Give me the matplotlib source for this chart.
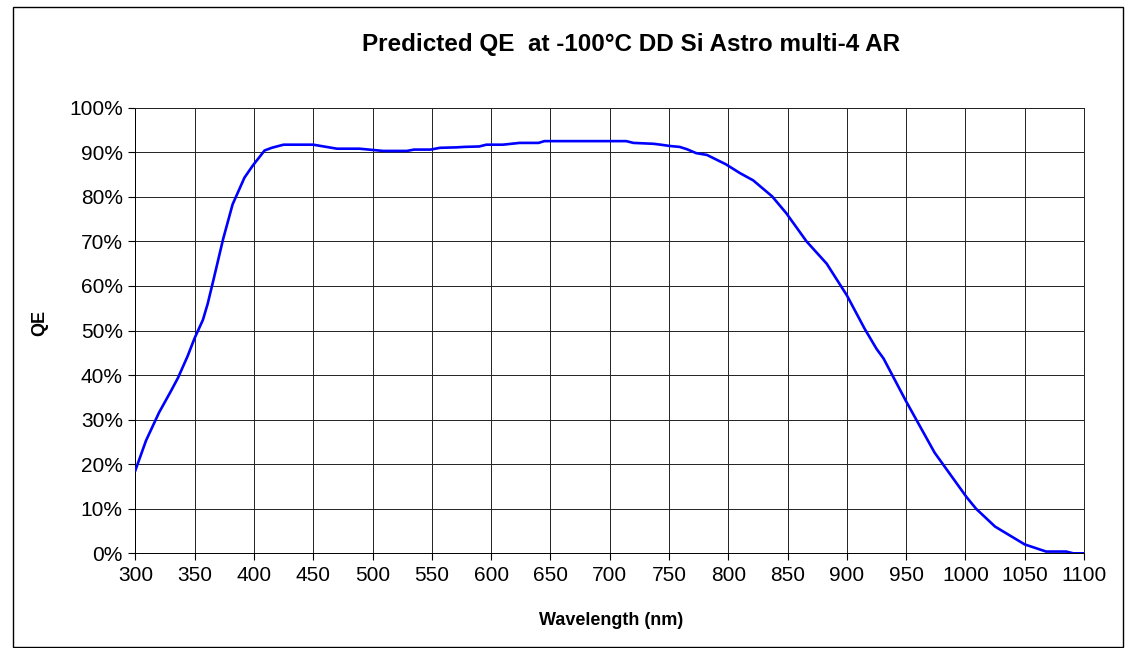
import matplotlib
matplotlib.use("Agg")
import matplotlib.pyplot as plt
from matplotlib.patches import Rectangle
from matplotlib.ticker import FuncFormatter

plt.rcParams["font.family"] = ["Liberation Sans", "DejaVu Sans"]

# Valeurs
wavelength = [300, 309, 320, 330, 336, 344, 350, 357, 361, 366, 374, 382, 392, 399,
              409, 415, 425, 450, 470, 489, 509, 529, 535, 549, 557, 571, 577, 590,
              596, 610, 624, 640, 645, 714, 720, 737, 743, 751, 759, 765, 773, 782,
              798, 810, 821, 837, 849, 866, 883, 900, 915, 925, 931, 950, 974, 981,
              1001, 1009, 1025, 1050, 1068, 1085, 1091, 1100]
qe = [18.6, 25.3, 31.6, 36.4, 39.4, 44.2, 48.3, 52.4, 56.0, 61.5, 70.5, 78.3, 84.3, 87.0,
      90.4, 91.0, 91.7, 91.7, 90.8, 90.8, 90.3, 90.3, 90.6, 90.6, 91.0, 91.1, 91.2, 91.3,
      91.7, 91.7, 92.1, 92.1, 92.5, 92.5, 92.1, 91.9, 91.7, 91.4, 91.2, 90.7, 89.8, 89.4,
      87.3, 85.3, 83.7, 80.1, 76.3, 70.0, 65.0, 57.9, 50.4, 45.9, 43.7, 34.1, 22.6, 20.0,
      12.6, 10.0, 6.0, 2.0, 0.4, 0.4, 0.0, 0.0]

x_ticks = list(range(300, 1101, 50))
y_ticks = list(range(0, 101, 10))

title = "Predicted QE  at -100°C DD Si Astro multi-4 AR"

fig = plt.figure(figsize=(11.26, 6.48), dpi=100)
fig.patch.set_facecolor("white")

# cadre extérieur du graphique
fig.patches.append(Rectangle((0.0113, 0.002), 0.9858, 0.9867, transform=fig.transFigure,
                             fill=False, edgecolor="black", linewidth=1.0))

ax = fig.add_axes([0.1202, 0.1461, 0.8425, 0.6877])
ax.plot(wavelength, qe, color="#0000ff", linewidth=1.9, zorder=3)

ax.set_xlim(300, 1100)
ax.set_ylim(0, 100)
ax.set_xticks(x_ticks)
ax.set_yticks(y_ticks)
ax.yaxis.set_major_formatter(FuncFormatter(lambda v, p: f"{int(v)}%"))
ax.grid(True, color="#222222", linewidth=0.7)
ax.set_axisbelow(True)
ax.tick_params(direction="out", length=5, width=0.8, labelsize=15, pad=4)

for spine in ax.spines.values():
    spine.set_linewidth(0.7)
    spine.set_color("#222222")
ax.spines["left"].set_color("black")
ax.spines["bottom"].set_color("black")

fig.text(0.560, 0.932, title, ha="center", va="center", fontsize=17.5, fontweight="bold")
fig.text(0.5425, 0.043, "Wavelength (nm)", ha="center", va="center", fontsize=13, fontweight="bold")
fig.text(0.0355, 0.502, "QE", ha="center", va="center", rotation=90, fontsize=13, fontweight="bold")

fig.savefig("out.png", dpi=100)
